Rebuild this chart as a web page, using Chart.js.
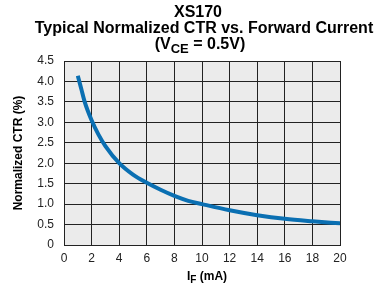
<!DOCTYPE html>
<html>
<head>
<meta charset="utf-8">
<script src="https://cdn.jsdelivr.net/npm/chart.js@4"></script>
<style>
  html, body { margin: 0; padding: 0; background: #fff; }
  #wrap { width: 380px; height: 291px; }
</style>
</head>
<body>
<div id="wrap"><canvas id="chart" width="380" height="291"></canvas></div>
<script>
// forward current (mA) and normalized CTR
const currentMA = [1, 1.25, 1.5, 2, 2.5, 3, 4, 5, 6, 7, 8, 9, 10, 12, 14, 16, 18, 20];
const ctrValues = [4.14, 3.82, 3.5, 3.05, 2.7, 2.42, 2.0, 1.72, 1.52, 1.35, 1.2, 1.08, 1.0, 0.85, 0.73, 0.64, 0.58, 0.53];
const xTicks = [0, 2, 4, 6, 8, 10, 12, 14, 16, 18, 20];
const yTicks = [0, 0.5, 1.0, 1.5, 2.0, 2.5, 3.0, 3.5, 4.0, 4.5];

const FONT = '"Liberation Sans", Arial, sans-serif';

// text with a subscript part: parts = [[text, isSub], ...]
function drawRich(ctx, parts, cx, cy, size) {
  const subSize = Math.round(size * 0.8);
  let total = 0;
  parts.forEach(p => {
    ctx.font = 'bold ' + (p[1] ? subSize : size) + 'px ' + FONT;
    total += ctx.measureText(p[0]).width;
  });
  let x = cx - total / 2;
  ctx.textAlign = 'left';
  ctx.textBaseline = 'alphabetic';
  parts.forEach(p => {
    ctx.font = 'bold ' + (p[1] ? subSize : size) + 'px ' + FONT;
    ctx.fillText(p[0], x, cy + (p[1] ? size * 0.25 : 0));
    x += ctx.measureText(p[0]).width;
  });
}

const decor = {
  id: 'decor',
  beforeDraw(chart) {
    const { ctx, chartArea: a } = chart;
    ctx.save();
    ctx.fillStyle = '#ebebeb';
    ctx.fillRect(a.left, a.top, a.right - a.left, a.bottom - a.top);
    ctx.restore();
  },
  afterDraw(chart) {
    const { ctx, chartArea: a } = chart;
    const cx = (a.left + a.right) / 2;
    ctx.save();
    ctx.fillStyle = '#000';
    drawRich(ctx, [['XS170', false]], cx - 4, 17, 16);
    drawRich(ctx, [['Typical Normalized CTR vs. Forward Current', false]], cx + 2, 33, 16);
    drawRich(ctx, [['(V', false], ['CE', true], [' = 0.5V)', false]], cx - 2, 49, 16);
    drawRich(ctx, [['I', false], ['F', true], [' (mA)', false]], cx + 5, 280, 12);
    ctx.translate(22, (a.top + a.bottom) / 2);
    ctx.rotate(-Math.PI / 2);
    drawRich(ctx, [['Normalized CTR (%)', false]], 0, 0, 12);
    ctx.restore();
  }
};

new Chart(document.getElementById('chart'), {
  type: 'line',
  data: {
    datasets: [{
      data: currentMA.map((x, i) => ({ x: x, y: ctrValues[i] })),
      borderColor: '#0a6fb2',
      borderWidth: 4,
      pointRadius: 0,
      cubicInterpolationMode: 'monotone',
      fill: false
    }]
  },
  options: {
    responsive: false,
    animation: false,
    layout: { padding: { top: 61, right: 40, left: 0, bottom: 0 } },
    plugins: { legend: { display: false }, title: { display: false }, tooltip: { enabled: false } },
    scales: {
      x: {
        type: 'linear',
        min: 0, max: 20,
        afterBuildTicks: s => { s.ticks = xTicks.map(v => ({ value: v })); },
        afterFit: s => { s.height = 46; },
        grid: { color: '#222', lineWidth: 1, drawTicks: false },
        border: { color: '#222', width: 1 },
        ticks: { color: '#222', font: { family: FONT, size: 12 }, padding: 6, maxRotation: 0 }
      },
      y: {
        min: 0, max: 4.5,
        afterBuildTicks: s => { s.ticks = yTicks.map(v => ({ value: v })); },
        afterFit: s => { s.width = 64; },
        grid: { color: '#222', lineWidth: 1, drawTicks: false },
        border: { color: '#222', width: 1 },
        ticks: {
          color: '#222', font: { family: FONT, size: 12 }, padding: 10,
          callback: v => v === 0 ? '0' : v.toFixed(1)
        }
      }
    }
  },
  plugins: [decor]
});
</script>
</body>
</html>
